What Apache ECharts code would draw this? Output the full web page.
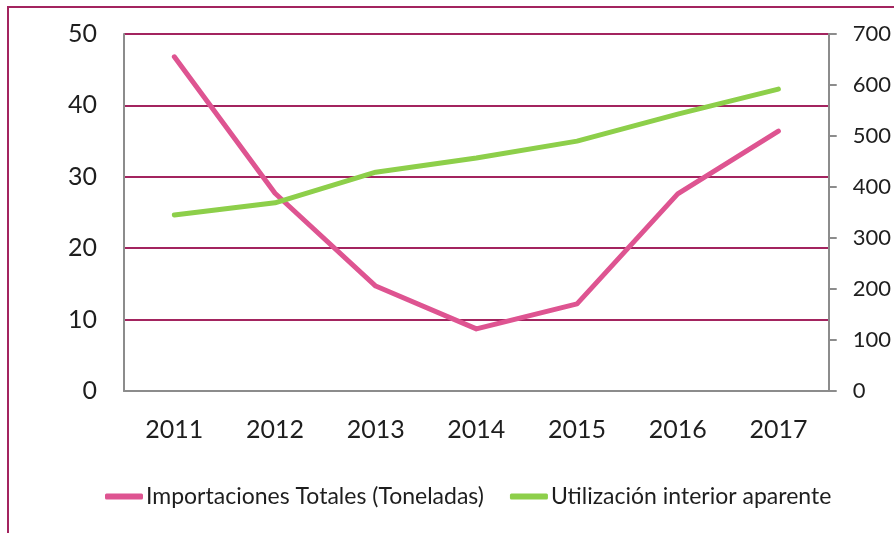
<!DOCTYPE html>
<html><head><meta charset="utf-8">
<script src="https://cdn.jsdelivr.net/npm/echarts@6/dist/echarts.min.js"></script>
<style>html,body{margin:0;padding:0;background:#fff}#c{width:894px;height:533px}</style>
</head><body><div id="c"></div>
<script>
const categories = ['2011','2012','2013','2014','2015','2016','2017'];
const importaciones = [46.8, 27.7, 14.7, 8.7, 12.2, 27.6, 36.4];
const utilizacion = [345, 369, 429, 457, 490, 543, 592];
const leftTicks = [0,10,20,30,40,50];
const rightTicks = [0,100,200,300,400,500,600,700];
const seriesNames = ['Importaciones Totales (Toneladas)','Utilización interior aparente'];

const FONT = 'Lato';
const chart = echarts.init(document.getElementById('c'), null, {renderer:'canvas'});
chart.setOption({
  animation:false,
  backgroundColor:'#fff',
  graphic:[{type:'rect',shape:{x:8,y:7,width:1000,height:1000},style:{fill:'none',stroke:'#A3245F',lineWidth:2},silent:true}],
  grid:{left:124,right:65,top:34,bottom:142,containLabel:false},
  legend:{
    bottom:20,left:100,itemWidth:38,itemHeight:6,itemGap:26,
    icon:'roundRect',
    textStyle:{fontFamily:FONT,fontSize:23,color:'#1e1e1e',padding:[0,0,0,-2]},
    data:seriesNames
  },
  xAxis:{type:'category',data:categories,boundaryGap:true,
    axisLine:{lineStyle:{color:'#8c8c8c',width:2}},axisTick:{show:false},
    axisLabel:{fontFamily:FONT,fontSize:25,color:'#1e1e1e',margin:26}},
  yAxis:[
    {type:'value',min:leftTicks[0],max:leftTicks[leftTicks.length-1],interval:10,position:'left',
     axisLine:{show:true,lineStyle:{color:'#8c8c8c',width:2}},axisTick:{show:false},
     axisLabel:{fontFamily:FONT,fontSize:25,color:'#1e1e1e',margin:27}},
    {type:'value',min:rightTicks[0],max:rightTicks[rightTicks.length-1],interval:100,position:'right',
     axisLine:{show:true,lineStyle:{color:'#8c8c8c',width:2}},
     axisTick:{show:true,length:8,lineStyle:{color:'#8c8c8c',width:2}},
     axisLabel:{fontFamily:FONT,fontSize:22,color:'#1e1e1e',margin:24},
     splitLine:{show:false}}
  ],
  series:[
    {name:seriesNames[0],type:'line',yAxisIndex:0,data:importaciones,showSymbol:false,symbol:'none',
     lineStyle:{color:'#DE5491',width:5,cap:'round',join:'round'},itemStyle:{color:'#DE5491'}},
    {name:seriesNames[1],type:'line',yAxisIndex:1,data:utilizacion,showSymbol:false,symbol:'none',
     lineStyle:{color:'#8DCF4A',width:5,cap:'round',join:'round'},itemStyle:{color:'#8DCF4A'}}
  ]
});
chart.setOption({yAxis:[{splitLine:{show:true,lineStyle:{color:'#A3245F',width:2}}},{}]});
</script></body></html>
